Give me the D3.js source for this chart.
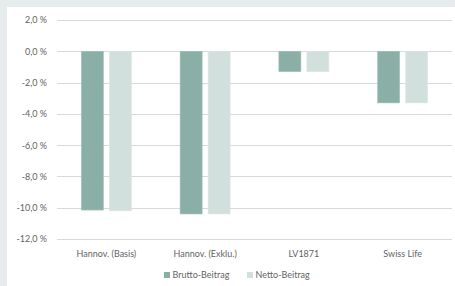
<!DOCTYPE html>
<html><head><meta charset="utf-8">
<script src="https://cdn.jsdelivr.net/npm/d3@7"></script>
<style>
html,body{margin:0;padding:0;background:#e6eceb;}
svg{display:block;}
text{font-family:Lato,"Open Sans",sans-serif;fill:#636363;}
</style></head><body>
<svg id="c" width="455" height="286"></svg>
<script>
const categories = ["Hannov. (Basis)", "Hannov. (Exklu.)", "LV1871", "Swiss Life"];
const seriesNames = ["Brutto-Beitrag", "Netto-Beitrag"];
const brutto = [-10.15, -10.4, -1.3, -3.3];
const netto = [-10.2, -10.4, -1.3, -3.3];
const tickValues = [2, 0, -2, -4, -6, -8, -10, -12];
const colors = ["#8aafa6", "#d1e0dc"];

const svg = d3.select("#c");
svg.append("rect").attr("x", 7).attr("y", 7).attr("width", 448).attr("height", 279).attr("fill", "#ffffff");

const x0 = d3.scaleBand().domain(categories).range([57, 452]);
const x1 = d3.scaleBand().domain(seriesNames).range([0, 50]).paddingInner(0.214);
const y = d3.scaleLinear().domain([-12, 2]).range([239, 20]);

const fmt = v => v.toFixed(1).replace(".", ",") + " %";

// gridlines
svg.append("g").selectAll("line").data(tickValues).join("line")
  .attr("x1", 57).attr("x2", 452)
  .attr("y1", d => Math.round(y(d)) + 0.5).attr("y2", d => Math.round(y(d)) + 0.5)
  .attr("stroke", "#d9d9d9").attr("stroke-width", 1);

// y axis labels
const yAxis = d3.axisLeft(y).tickValues(tickValues).tickFormat(fmt).tickSize(0).tickPadding(0);
const ya = svg.append("g").attr("transform", "translate(47,0)").call(yAxis);
ya.select(".domain").remove();
ya.selectAll("text").style("font-size", "9px").attr("fill", "#636363").attr("dy", "0.32em");

// bars
const data = categories.map((c, i) => ({c, vals: [brutto[i], netto[i]]}));
const g = svg.append("g");
data.forEach(d => {
  const cx = x0(d.c) + x0.bandwidth() / 2 - 25;
  d.vals.forEach((v, j) => {
    g.append("rect")
      .attr("x", cx + x1(seriesNames[j]))
      .attr("y", y(Math.max(0, v)))
      .attr("width", x1.bandwidth())
      .attr("height", Math.abs(y(v) - y(0)))
      .attr("fill", colors[j])
      .attr("stroke", j === 0 ? "#a3c0b8" : "#dde8e5")
      .attr("stroke-width", 0.6);
  });
});

// x axis labels
const xAxis = d3.axisBottom(x0).tickSize(0).tickPadding(0);
const xa = svg.append("g").attr("transform", "translate(0,249)").call(xAxis);
xa.select(".domain").remove();
xa.selectAll("text").style("font-size", "9px").attr("fill", "#636363").attr("dy", "0.35em").attr("y", 5);

// legend
const legendX = [164, 247];
const lg = svg.append("g");
seriesNames.forEach((s, j) => {
  lg.append("rect").attr("x", legendX[j]).attr("y", 272).attr("width", 6).attr("height", 6).attr("fill", colors[j]);
  lg.append("text").attr("x", legendX[j] + 8.5).attr("y", 278).style("font-size", "9px").text(s);
});
</script>
</body></html>
